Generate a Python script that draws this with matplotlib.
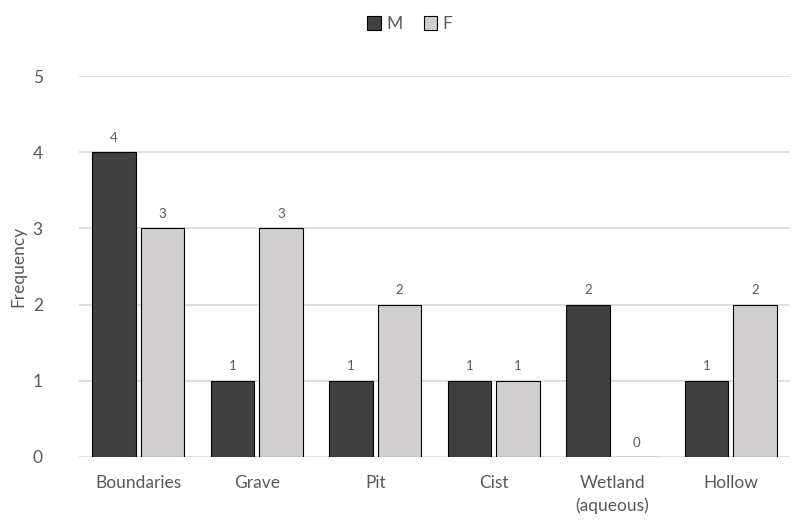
import matplotlib
matplotlib.use("Agg")
import matplotlib.pyplot as plt
import numpy as np

categories = ["Boundaries", "Grave", "Pit", "Cist", "Wetland\n(aqueous)", "Hollow"]
male = [4, 1, 1, 1, 2, 1]
female = [3, 3, 2, 1, 0, 2]
series_names = ["M", "F"]
yticks = [0, 1, 2, 3, 4, 5]

plt.rcParams['font.family'] = ['Lato', 'DejaVu Sans']
text_color = "#595959"

fig = plt.figure(figsize=(7.96, 5.32), dpi=100)
ax = fig.add_axes([0.0992, 0.141, 0.8933, 0.716])

x = np.arange(len(categories))
w = 0.37
off = w / 2 + 0.02
b1 = ax.bar(x - off, male, w, color="#404040", edgecolor="black", linewidth=0.8,
            label=series_names[0], zorder=3)
b2 = ax.bar(x + off, female, w, color="#d0cece", edgecolor="black", linewidth=0.8,
            label=series_names[1], zorder=3)

for bars, vals in ((b1, male), (b2, female)):
    for rect, v in zip(bars, vals):
        ax.annotate(str(v), (rect.get_x() + rect.get_width() / 2, v),
                    xytext=(0, 6), textcoords="offset points",
                    ha="center", va="bottom", fontsize=9.5, color=text_color)

ax.set_xlim(-0.5, len(categories) - 0.5)
ax.set_ylim(0, 5)
ax.set_yticks(yticks)
ax.set_xticks(x)
ax.set_xticklabels(categories, linespacing=1.5)
ax.tick_params(axis="both", length=0, labelsize=12.5, colors=text_color)
ax.tick_params(axis="x", pad=13)
ax.tick_params(axis="y", pad=26)
ax.yaxis.grid(True, color="#d9d9d9", linewidth=1.2, zorder=0)
for s in ax.spines.values():
    s.set_visible(False)

ax.set_ylabel("Frequency", fontsize=12.5, color=text_color)
ax.yaxis.set_label_coords(-0.074, 0.5)

leg = fig.legend(loc="center", bbox_to_anchor=(0.515, 0.955), ncol=2, frameon=False,
                 fontsize=12.5, handlelength=0.8, handleheight=0.8, handletextpad=0.3,
                 columnspacing=1.2)
for t in leg.get_texts():
    t.set_color(text_color)

fig.savefig("out.png", dpi=100)
